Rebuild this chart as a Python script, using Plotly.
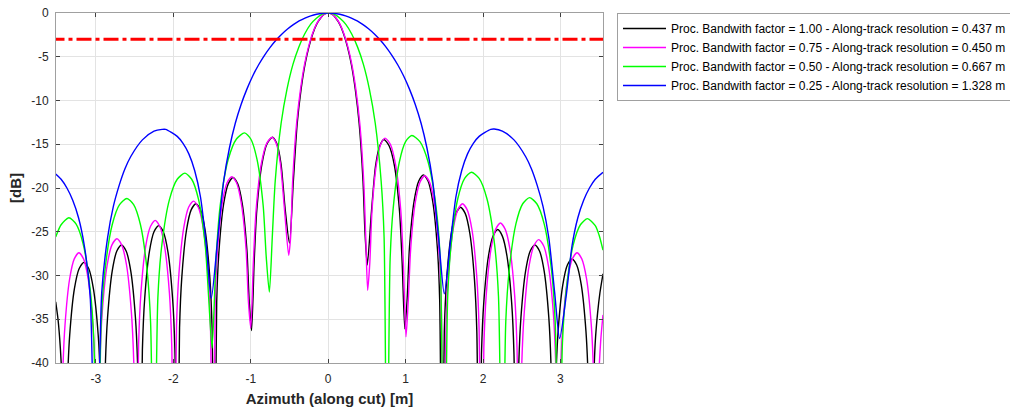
import plotly.graph_objects as go

# ---------------- data ----------------
x_ticks = [-3, -2, -1, 0, 1, 2, 3]
y_ticks = [0, -5, -10, -15, -20, -25, -30, -35, -40]
x_range = [-3.516, 3.55]
y_range = [-40, 0]

names = [
    "Proc. Bandwith factor = 1.00 - Along-track resolution = 0.437 m",
    "Proc. Bandwith factor = 0.75 - Along-track resolution = 0.450 m",
    "Proc. Bandwith factor = 0.50 - Along-track resolution = 0.667 m",
    "Proc. Bandwith factor = 0.25 - Along-track resolution = 1.328 m",
]

# factor 1.00 (black)
black = [
    (-3.52, -33.0), (-3.49, -35.0), (-3.46, -38.3), (-3.43, -44.0), (-3.40, -60),
    (-3.369, -42.7), (-3.339, -36.8), (-3.278, -31.5), (-3.216, -29.2), (-3.155, -28.5),
    (-3.094, -29.2), (-3.033, -31.5), (-2.971, -36.8), (-2.941, -42.7), (-2.91, -60),
    (-2.88, -40.7), (-2.85, -34.8), (-2.79, -29.5), (-2.73, -27.2), (-2.67, -26.5),
    (-2.61, -27.2), (-2.55, -29.5), (-2.49, -34.8), (-2.46, -40.7), (-2.43, -60),
    (-2.40, -38.5), (-2.37, -32.6), (-2.31, -27.3), (-2.25, -25.0), (-2.19, -24.3),
    (-2.13, -25.0), (-2.07, -27.3), (-2.01, -32.6), (-1.98, -38.5), (-1.95, -60),
    (-1.92, -36.0), (-1.89, -30.1), (-1.83, -24.8), (-1.77, -22.5), (-1.71, -21.8),
    (-1.65, -22.5), (-1.59, -24.8), (-1.53, -30.1), (-1.50, -36.0), (-1.47, -60),
    (-1.44, -33.0), (-1.41, -27.1), (-1.35, -21.8), (-1.29, -19.5), (-1.23, -18.8),
    (-1.17, -19.5), (-1.11, -21.8), (-1.05, -27.1), (-1.02, -33.0), (-0.99, -36.3),
    (-0.956, -28.4), (-0.922, -22.5), (-0.855, -17.2), (-0.788, -14.9), (-0.72, -14.2),
    (-0.665, -14.9), (-0.61, -17.2), (-0.555, -22.5), (-0.50, -26.3),
    (-0.45, -19.2), (-0.40, -12.6), (-0.35, -8.7), (-0.30, -5.9), (-0.25, -3.9),
    (-0.20, -2.4), (-0.15, -1.3), (-0.10, -0.6), (-0.05, -0.14), (0.0, 0.0),
    (0.05, -0.14), (0.10, -0.6), (0.15, -1.3), (0.20, -2.4), (0.25, -3.9),
    (0.30, -5.9), (0.35, -8.7), (0.40, -12.6), (0.45, -19.2), (0.475, -25.0), (0.505, -28.8),
    (0.559, -22.7), (0.613, -17.4), (0.666, -15.2), (0.72, -14.45), (0.788, -15.2),
    (0.855, -17.4), (0.922, -22.7), (0.956, -28.6), (0.99, -36.1),
    (1.02, -32.7), (1.05, -26.8), (1.11, -21.5), (1.17, -19.2), (1.23, -18.5),
    (1.29, -19.2), (1.35, -21.5), (1.41, -26.8), (1.44, -32.7), (1.47, -60),
    (1.50, -36.4), (1.53, -30.5), (1.59, -25.2), (1.65, -22.9), (1.71, -22.2),
    (1.77, -22.9), (1.83, -25.2), (1.89, -30.5), (1.92, -36.4), (1.95, -60),
    (1.98, -39.0), (2.01, -33.1), (2.07, -27.8), (2.13, -25.5), (2.19, -24.75),
    (2.25, -25.5), (2.31, -27.8), (2.37, -33.1), (2.40, -39.0), (2.43, -60),
    (2.46, -40.7), (2.49, -34.8), (2.55, -29.5), (2.61, -27.2), (2.67, -26.5),
    (2.73, -27.2), (2.79, -29.5), (2.85, -34.8), (2.88, -40.7), (2.91, -60),
    (2.94, -42.3), (2.97, -36.4), (3.03, -31.1), (3.09, -28.8), (3.15, -28.1),
    (3.21, -28.8), (3.27, -31.1), (3.33, -36.4), (3.36, -42.3), (3.39, -60),
    (3.42, -45.0), (3.45, -37.6), (3.48, -34.3), (3.51, -32.0), (3.55, -29.8),
]

# factor 0.75 (magenta)
magenta = [
    (-3.53, -40.5), (-3.50, -44.0), (-3.46, -60),
    (-3.43, -41.6), (-3.40, -35.7), (-3.34, -30.4), (-3.28, -28.1), (-3.22, -27.4),
    (-3.16, -28.1), (-3.10, -30.4), (-3.04, -35.7), (-3.01, -41.6), (-2.98, -60),
    (-2.949, -40.0), (-2.918, -34.1), (-2.855, -28.8), (-2.793, -26.5), (-2.73, -25.8),
    (-2.668, -26.5), (-2.605, -28.8), (-2.543, -34.1), (-2.511, -40.0), (-2.48, -60),
    (-2.449, -37.9), (-2.419, -32.0), (-2.358, -26.7), (-2.296, -24.4), (-2.235, -23.7),
    (-2.174, -24.4), (-2.113, -26.7), (-2.051, -32.0), (-2.021, -37.9), (-1.99, -60),
    (-1.959, -35.7), (-1.928, -29.8), (-1.865, -24.5), (-1.803, -22.2), (-1.74, -21.5),
    (-1.678, -22.2), (-1.615, -24.5), (-1.553, -29.8), (-1.521, -35.7), (-1.49, -60),
    (-1.459, -32.9), (-1.429, -27.0), (-1.368, -21.7), (-1.306, -19.4), (-1.245, -18.7),
    (-1.184, -19.4), (-1.123, -21.7), (-1.061, -27.0), (-1.031, -32.9), (-1.00, -36.0),
    (-0.966, -28.4), (-0.931, -22.5), (-0.863, -17.2), (-0.794, -14.9), (-0.725, -14.2),
    (-0.671, -14.9), (-0.618, -17.2), (-0.564, -22.5), (-0.51, -27.7),
    (-0.485, -25.6), (-0.459, -19.2), (-0.408, -12.6), (-0.357, -8.7), (-0.306, -5.9),
    (-0.255, -3.9), (-0.204, -2.4), (-0.153, -1.3), (-0.102, -0.6), (-0.051, -0.14),
    (0.0, 0.0), (0.051, -0.14), (0.102, -0.6), (0.153, -1.3), (0.204, -2.4),
    (0.255, -3.9), (0.306, -5.9), (0.357, -8.7), (0.408, -12.6), (0.459, -19.2),
    (0.485, -25.6), (0.51, -31.7),
    (0.538, -28.5), (0.566, -22.6), (0.623, -17.3), (0.679, -15.0), (0.735, -14.3),
    (0.803, -15.0), (0.87, -17.3), (0.938, -22.6), (0.971, -28.5), (1.005, -37.0),
    (1.035, -32.8), (1.066, -26.9), (1.126, -21.6), (1.187, -19.3), (1.2475, -18.6),
    (1.308, -19.3), (1.369, -21.6), (1.429, -26.9), (1.46, -32.8), (1.49, -60),
    (1.521, -36.0), (1.551, -30.1), (1.613, -24.8), (1.674, -22.5), (1.735, -21.8),
    (1.796, -22.5), (1.858, -24.8), (1.919, -30.1), (1.949, -36.0), (1.98, -60),
    (2.011, -38.2), (2.041, -32.3), (2.103, -27.0), (2.164, -24.7), (2.225, -24.0),
    (2.286, -24.7), (2.348, -27.0), (2.409, -32.3), (2.439, -38.2), (2.47, -60),
    (2.501, -40.1), (2.533, -34.2), (2.595, -28.9), (2.658, -26.6), (2.72, -25.9),
    (2.783, -26.6), (2.845, -28.9), (2.908, -34.2), (2.939, -40.1), (2.97, -60),
    (3.001, -41.6), (3.031, -35.7), (3.093, -30.4), (3.154, -28.1), (3.215, -27.4),
    (3.276, -28.1), (3.338, -30.4), (3.399, -35.7), (3.429, -41.6), (3.46, -60),
    (3.49, -43.0), (3.52, -37.5), (3.55, -34.5),
]

# factor 0.50 (green)
green = [
    (-3.52, -25.6), (-3.45, -24.2), (-3.35, -23.4), (-3.258, -24.1), (-3.165, -26.4),
    (-3.073, -31.7), (-3.026, -37.6), (-2.98, -60),
    (-2.9325, -35.4), (-2.885, -29.5), (-2.79, -24.2), (-2.695, -21.9), (-2.60, -21.2),
    (-2.513, -21.9), (-2.425, -24.2), (-2.338, -29.5), (-2.294, -35.4), (-2.25, -60),
    (-2.20, -32.5), (-2.15, -26.6), (-2.05, -21.3), (-1.95, -19.0), (-1.85, -18.3),
    (-1.763, -19.0), (-1.675, -21.3), (-1.588, -26.6), (-1.544, -32.5), (-1.50, -38.3),
    (-1.4475, -27.9), (-1.395, -22.0), (-1.29, -16.7), (-1.185, -14.4), (-1.08, -13.7),
    (-1.00, -14.4), (-0.92, -16.7), (-0.84, -22.0), (-0.80, -27.9), (-0.76, -31.9),
    (-0.722, -25.6), (-0.684, -19.2), (-0.608, -12.6), (-0.532, -8.7), (-0.456, -5.9),
    (-0.38, -3.9), (-0.304, -2.4), (-0.228, -1.3), (-0.152, -0.6), (-0.076, -0.14),
    (0.0, 0.0), (0.076, -0.14), (0.152, -0.6), (0.228, -1.3), (0.304, -2.4),
    (0.38, -3.9), (0.456, -5.9), (0.532, -8.7), (0.608, -12.6), (0.684, -19.2),
    (0.722, -25.6), (0.76, -60),
    (0.80, -28.2), (0.84, -22.3), (0.92, -17.0), (1.00, -14.7), (1.08, -14.0),
    (1.185, -14.7), (1.29, -17.0), (1.395, -22.3), (1.4475, -28.2), (1.50, -60),
    (1.544, -32.4), (1.588, -26.5), (1.675, -21.2), (1.763, -18.9), (1.85, -18.2),
    (1.95, -18.9), (2.05, -21.2), (2.15, -26.5), (2.20, -32.4), (2.25, -60),
    (2.294, -35.3), (2.338, -29.4), (2.425, -24.1), (2.513, -21.8), (2.60, -21.1),
    (2.695, -21.8), (2.79, -24.1), (2.885, -29.4), (2.9325, -35.3), (2.98, -60),
    (3.026, -37.7), (3.073, -31.8), (3.165, -26.5), (3.258, -24.2), (3.35, -23.5),
    (3.45, -24.3), (3.50, -25.4), (3.55, -27.1),
]

# factor 0.25 (blue)
blue = [
    (-3.52, -18.4), (-3.45, -19.0), (-3.375, -20.0), (-3.30, -21.4), (-3.225, -23.4),
    (-3.15, -26.6), (-3.075, -32.3), (-3.0, -60),
    (-2.925, -31.9), (-2.85, -25.7), (-2.775, -22.1), (-2.70, -19.7), (-2.625, -17.8),
    (-2.55, -16.4), (-2.40, -14.5), (-2.25, -13.5), (-2.145, -13.3), (-2.10, -13.3),
    (-1.95, -14.1), (-1.875, -14.9), (-1.80, -16.1), (-1.725, -18.0), (-1.65, -21.0),
    (-1.575, -26.5), (-1.51, -32.6),
    (-1.425, -25.6), (-1.35, -19.2), (-1.275, -15.4), (-1.20, -12.6), (-1.125, -10.45),
    (-1.05, -8.7), (-0.975, -7.2), (-0.90, -5.94), (-0.825, -4.86), (-0.75, -3.92),
    (-0.675, -3.11), (-0.60, -2.42), (-0.525, -1.83), (-0.45, -1.33), (-0.375, -0.91),
    (-0.30, -0.58), (-0.225, -0.32), (-0.15, -0.14), (-0.075, -0.04), (0.0, 0.0),
    (0.075, -0.04), (0.15, -0.14), (0.225, -0.32), (0.30, -0.58), (0.375, -0.91),
    (0.45, -1.33), (0.525, -1.83), (0.60, -2.42), (0.675, -3.11), (0.75, -3.92),
    (0.825, -4.86), (0.90, -5.94), (0.975, -7.2), (1.05, -8.7), (1.125, -10.45),
    (1.20, -12.6), (1.275, -15.4), (1.35, -19.2), (1.425, -25.6), (1.50, -32.1),
    (1.575, -26.5), (1.65, -21.0), (1.725, -18.0), (1.80, -16.1), (1.875, -14.9),
    (1.95, -14.1), (2.10, -13.3), (2.145, -13.26), (2.25, -13.5), (2.40, -14.5),
    (2.55, -16.4), (2.625, -17.8), (2.70, -19.7), (2.775, -22.1), (2.85, -25.7),
    (2.925, -31.9), (2.99, -37.2), (3.075, -32.3), (3.15, -26.6), (3.225, -23.4),
    (3.30, -21.4), (3.375, -20.0), (3.45, -19.0), (3.55, -18.2),
]

# -3 dB reference line
ref_x = [-3.6, 3.6]
ref_y = [-3, -3]

colors = ["#000000", "#ff00ff", "#00ff00", "#0000ff"]

# ---------------- figure ----------------
fig = go.Figure()
for pts, name, col in zip([black, magenta, green, blue], names, colors):
    xs = [p[0] for p in pts]
    ys = [p[1] for p in pts]
    fig.add_trace(go.Scatter(
        x=xs, y=ys, mode="lines", name=name,
        line=dict(color=col, width=1.4, shape="spline", smoothing=0.7),
    ))

fig.add_trace(go.Scatter(
    x=ref_x, y=ref_y, mode="lines", showlegend=False, hoverinfo="skip",
    line=dict(color="#ff0000", width=3, dash="15px,4px,4px,4px"),
))

font_family = "Liberation Sans, Arial, sans-serif"
axis_common = dict(
    showgrid=True, gridcolor="#e3e3e3", gridwidth=1,
    zeroline=False,
    showline=True, linecolor="#a0a0a0", linewidth=1, mirror="ticks",
    ticks="inside", ticklen=4, tickcolor="#404040", tickwidth=1,
    tickfont=dict(family=font_family, size=12, color="#262626"),
    automargin=False,
)

fig.update_layout(
    width=1010, height=409,
    margin=dict(l=56, r=407, t=13, b=46, autoexpand=False),
    paper_bgcolor="white", plot_bgcolor="white",
    font=dict(family=font_family, size=12, color="#262626"),
    showlegend=True,
    legend=dict(
        x=1.0256, y=1.0, xanchor="left", yanchor="top",
        bordercolor="#a0a0a0", borderwidth=1, bgcolor="white",
        font=dict(family=font_family, size=12, color="#000000"),
        tracegroupgap=0, itemwidth=43,
    ),
    xaxis=dict(
        range=x_range, tickvals=x_ticks, ticktext=[str(v) for v in x_ticks],
        ticklabelstandoff=5,
        title=dict(text="Azimuth (along cut) [m]", standoff=8,
                   font=dict(family=font_family, size=15, color="#262626", weight="bold")),
        **axis_common,
    ),
    yaxis=dict(
        range=y_range, tickvals=y_ticks, ticktext=[str(v) for v in y_ticks],
        ticklabelstandoff=4,
        title=dict(text="[dB]", standoff=6,
                   font=dict(family=font_family, size=15, color="#262626", weight="bold")),
        **axis_common,
    ),
)

fig.write_html(
    "out.html",
    config={"displayModeBar": False},
    post_script="document.body.style.margin='0';document.body.style.overflow='hidden';",
)
